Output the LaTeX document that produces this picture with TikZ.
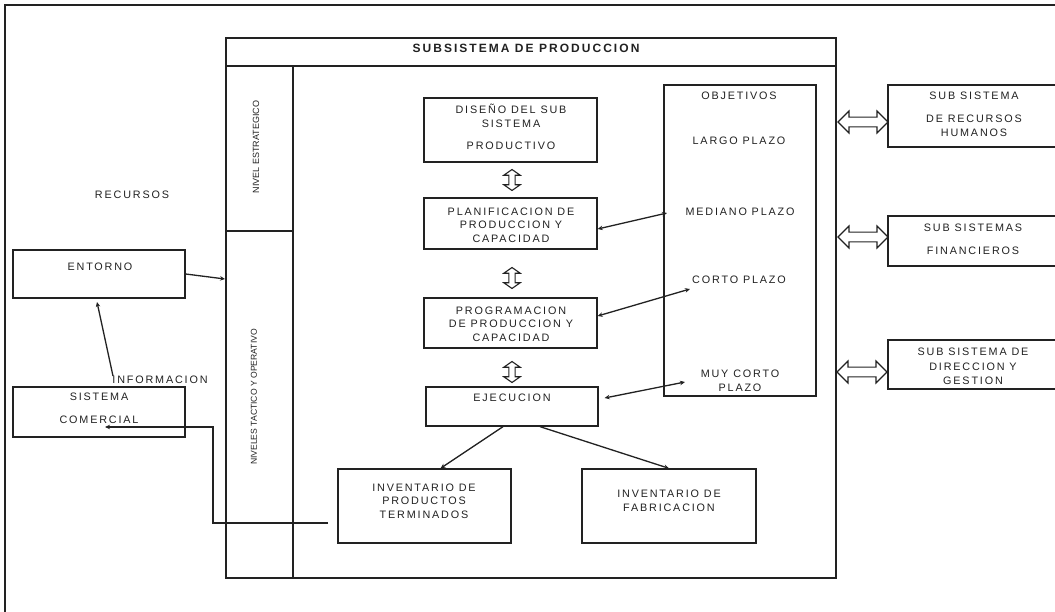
\documentclass[tikz,border=0pt]{standalone}
\usepackage{fontspec}
\setmainfont{Liberation Sans}
\newfontfamily\lsfont{Liberation Sans}[LetterSpace=17]
\usetikzlibrary{shapes.arrows,arrows.meta,calc}
\definecolor{ink}{HTML}{222222}
\tikzset{
  box/.style={draw=ink, line width=1.3pt, inner sep=0pt},
  txt/.style={text=ink, font=\lsfont\fontsize{10.8}{13.5}\selectfont, align=center, inner sep=0pt},
  vtxt/.style={text=ink, font=\fontsize{9}{10}\selectfont, rotate=90, inner sep=0pt},
  conn/.style={draw=ink, line width=1.3pt, -{Stealth[length=5pt,width=4.5pt]}},
  conntwo/.style={draw=ink, line width=1.3pt, {Stealth[length=5pt,width=4.5pt]}-{Stealth[length=5pt,width=4.5pt]}},
  vdbl/.style={double arrow, draw=ink, line width=1.1pt, rotate=90, minimum height=21pt, minimum width=16pt, double arrow head extend=5pt, double arrow tip angle=110, inner xsep=0pt, inner ysep=2.6pt},
  hdbl/.style={double arrow, draw=ink, line width=1.2pt, minimum height=50pt, minimum width=22pt, double arrow head extend=6pt, inner xsep=0pt, inner ysep=4.2pt},
}
\begin{document}
\begin{tikzpicture}[x=1pt,y=-1pt]
\useasboundingbox (0,0) rectangle (1055,612);
\fill[white] (0,0) rectangle (1055,612);
\draw[ink, line width=1.6pt] (1060,5) -- (5,5) -- (5,615);

% main subsystem box
\node[box, minimum width=610pt, minimum height=540pt] (main) at (531,308) {};
\node[box, minimum width=610pt, minimum height=28pt] (titlebar) at (531,52) {};
\node[txt, font=\lsfont\bfseries\fontsize{12}{12}\selectfont] (title) at (526,48) {SUBSISTEMA DE PRODUCCION};

% left level column
\node[box, minimum width=67pt, minimum height=165pt] (colA) at (259.5,148.5) {};
\node[box, minimum width=67pt, minimum height=347pt] (colB) at (259.5,404.5) {};
\node[vtxt] (estr) at (256,147) {NIVEL ESTRATEGICO};
\node[vtxt, font=\fontsize{8.6}{10}\selectfont] (tact) at (254,397) {NIVELES TACTICO Y OPERATIVO};

% central boxes
\node[box, minimum width=173pt, minimum height=64pt] (dis) at (510.5,130) {};
\node[txt] (disT) at (511,127) {DISEÑO DEL SUB\\SISTEMA\\[9pt]PRODUCTIVO};
\node[box, minimum width=173pt, minimum height=51pt] (plan) at (510.5,223.5) {};
\node[txt] (planT) at (511,225) {PLANIFICACION DE\\PRODUCCION Y\\CAPACIDAD};
\node[box, minimum width=173pt, minimum height=50pt] (prog) at (510.5,323) {};
\node[txt] (progT) at (511,324) {PROGRAMACION\\DE PRODUCCION Y\\CAPACIDAD};
\node[box, minimum width=172pt, minimum height=39pt] (eje) at (512,406.5) {};
\node[txt] (ejeT) at (512,398) {EJECUCION};
\node[box, minimum width=173pt, minimum height=74pt] (inv1) at (424.5,506) {};
\node[txt] (inv1T) at (424,501) {INVENTARIO DE\\PRODUCTOS\\TERMINADOS};
\node[box, minimum width=174pt, minimum height=74pt] (inv2) at (669,506) {};
\node[txt] (inv2T) at (669,501) {INVENTARIO DE\\FABRICACION};

% vertical double arrows
\node[vdbl] (d1) at (512,180) {};
\node[vdbl] (d2) at (512,278) {};
\node[vdbl] (d3) at (512,372) {};

% objectives box
\node[box, minimum width=152pt, minimum height=311pt] (obj) at (740,240.5) {};
\node[txt] (objT) at (739,96) {OBJETIVOS};
\node[txt] (largo) at (739,141) {LARGO PLAZO};
\node[txt] (mediano) at (740,212) {MEDIANO PLAZO};
\node[txt] (corto) at (739,280) {CORTO PLAZO};
\node[txt] (muy) at (740,381) {MUY CORTO\\PLAZO};

% right subsystems (cut off by the right edge)
\node[box, minimum width=176pt, minimum height=62pt] (hum) at (976,116) {};
\node[txt] (humT) at (974,114) {SUB SISTEMA\\[10pt]DE RECURSOS\\HUMANOS};
\node[box, minimum width=176pt, minimum height=50pt] (fin) at (976,241) {};
\node[txt] (finT) at (973,239.5) {SUB SISTEMAS\\[9.5pt]FINANCIEROS};
\node[box, minimum width=176pt, minimum height=49pt] (dir) at (976,364.5) {};
\node[txt, font=\lsfont\fontsize{10.8}{14.5}\selectfont] (dirT) at (973,366.5) {SUB SISTEMA DE\\DIRECCION Y\\GESTION};
\node[hdbl] (h1) at (863,122) {};
\node[hdbl] (h2) at (863,237) {};
\node[hdbl] (h3) at (862,372) {};

% left side
\node[txt] (rec) at (132,195) {RECURSOS};
\node[box, minimum width=172pt, minimum height=48pt] (ent) at (99,274) {};
\node[txt] (entT) at (100,267) {ENTORNO};
\node[box, minimum width=172pt, minimum height=50pt] (com) at (99,412) {};
\node[txt] (comT) at (99,408.5) {SISTEMA\\[9.5pt]COMERCIAL};
\node[txt] (info) at (160,380) {INFORMACION};

% free connector ends
\coordinate (entin) at (225,279);
\coordinate (infost) at (113,376);
\coordinate (entbot) at (97,302);
\coordinate (invout) at (328,523);
\coordinate (comin) at (105,427);
\coordinate (medend) at (667,213);
\coordinate (cortoend) at (690,289);
\coordinate (muyend) at (685,382);

% connectors
\draw[conn] (ent.east) -- (entin);
\draw[conn] (infost) -- (entbot);
\draw[conn] (invout) -- ++(-115,0) |- (comin);
\draw[conn] ($(eje.south)+(-9,0)$) -- ($(inv1.north)+(16,0)$);
\draw[conn] ($(eje.south)+(28,0)$) -- (inv2.north);
\draw[conntwo] ($(plan.east)+(0,5.5)$) -- (medend);
\draw[conntwo] ($(prog.east)+(0,-7)$) -- (cortoend);
\draw[conntwo] ($(eje.east)+(6,-8.5)$) -- (muyend);
\end{tikzpicture}
\end{document}
